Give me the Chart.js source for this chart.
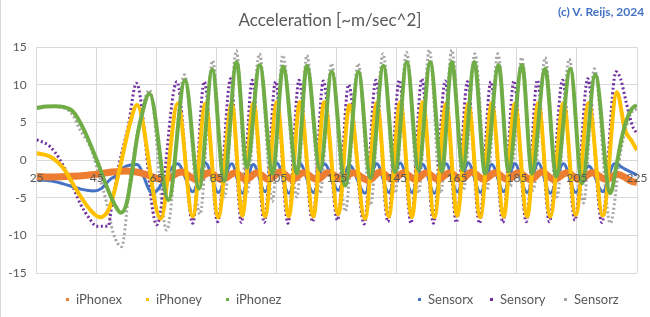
<!DOCTYPE html>
<html><head><meta charset="utf-8">
<script src="https://cdn.jsdelivr.net/npm/chart.js@4/dist/chart.umd.min.js"></script>
<style>
html,body{margin:0;padding:0;background:#fff;}
#wrap{position:relative;width:650px;height:317px;overflow:hidden;font-family:Lato,"Open Sans",sans-serif;}
#wrap canvas{position:absolute;left:0;top:0;}
#title{position:absolute;left:0;width:660px;top:9px;text-align:center;font-size:17px;color:#595959;}
#copy{position:absolute;left:558px;top:4px;font-size:12px;font-weight:bold;color:#4472C4;white-space:nowrap;}
.lg{position:absolute;top:291px;font-size:13px;color:#595959;white-space:nowrap;line-height:16px;}
.lg span.m{display:inline-block;width:3px;height:3px;margin-right:7px;vertical-align:middle;position:relative;top:-1px;}
#frame{position:absolute;left:0;top:0;width:1px;height:317px;background:#D9D9D9;}
</style></head><body>
<div id="wrap"><canvas id="c" width="650" height="317"></canvas>
<div id="frame"></div>
<div id="title">Acceleration [~m/sec^2]</div>
<div id="copy">(c) V. Reijs, 2024</div>
<div id="legend"></div>
</div>
<script>
// ---- data (x = time, y = acceleration) ----
const xTicks = [25,45,65,85,105,125,145,165,185,205,225];

const iPhonex = [[25,-2.2],[30,-2.25],[35,-2.2],[40,-2.1],[45,-1.9],[50,-1.6],[55,-1.45],[59.6,-1.7],[67.5,-2.6],[73.2,-1.6],[78.2,-2.6],[82.4,-1.7],[86.7,-2.6],[91.2,-1.7],[94.7,-2.6],[98.4,-1.7],[102.3,-2.6],[106.2,-1.6],[110.2,-2.6],[113.9,-1.7],[118.4,-2.6],[122,-1.7],[126.7,-2.5],[130.4,-1.7],[135.6,-2.7],[139.5,-1.6],[143.5,-2.6],[147.3,-1.7],[151.2,-2.6],[154.8,-1.7],[158.7,-2.6],[162.6,-1.7],[166.3,-2.6],[170,-1.6],[174,-2.6],[177.8,-1.7],[181.8,-2.6],[185.5,-1.7],[189.6,-2.6],[193.3,-1.6],[197.3,-2.6],[201.7,-1.7],[205.8,-2.6],[210.1,-1.7],[214.8,-2.6],[218.5,-1.9],[221,-2.3],[223,-2.8],[225,-3.0]];

const iPhoney = [[25,0.9],[29.4,0.45],[33.9,-1.1],[38.3,-4.0],[42.8,-6.6],[46.1,-7.6],[49.4,-6.2],[52.8,-0.9],[56.1,4.9],[58.4,7.3],[66.3,-7.8],[72.0,7.5],[77.0,-7.5],[81.2,7.5],[85.5,-7.6],[90.0,7.5],[93.5,-7.4],[97.2,7.6],[101.1,-7.5],[105.0,7.7],[109.0,-7.5],[112.7,7.7],[117.2,-7.5],[120.8,7.7],[125.5,-7.2],[129.2,7.3],[134.4,-7.8],[138.3,7.6],[142.3,-7.5],[146.1,7.7],[150.0,-7.6],[153.6,7.7],[157.5,-7.6],[161.4,7.5],[165.1,-7.4],[168.8,7.5],[172.8,-7.6],[176.6,7.6],[180.6,-7.5],[184.3,7.5],[188.4,-7.5],[192.1,7.6],[196.1,-7.5],[200.5,7.6],[204.6,-7.3],[208.9,7.6],[213.6,-7.4],[218.3,9.0],[221.0,4.0],[223.3,2.5],[225,1.3]];

const iPhonez = [[25,6.9],[28,7.1],[31,7.15],[33.9,7.05],[37.2,6.4],[40.5,4.2],[45,0],[48.3,-3.5],[51.1,-6.0],[53,-7.0],[55,-5.7],[56.7,-1.8],[58.3,2.6],[59.4,4.9],[62.6,8.8],[68.9,-5.3],[74.4,10.6],[79.1,-3.8],[83.5,12.0],[87.4,-2.8],[91.6,13.0],[95.0,-1.0],[99.3,12.6],[103.6,-1.8],[107.1,12.4],[111.7,-1.8],[115.0,12.5],[119.4,-1.3],[123.3,11.7],[127.8,-3.4],[132.2,11.7],[136.2,-2.4],[140.5,12.5],[144.4,-1.6],[148.3,13.0],[152.2,-1.3],[156.1,13.0],[160.0,-1.5],[163.3,13.0],[167.0,-1.3],[170.8,13.0],[174.4,-1.8],[178.9,12.6],[182.2,-1.5],[186.7,12.6],[190.0,-1.8],[194.4,12.1],[198.1,-2.2],[202.8,12.1],[206.7,-3.1],[211.1,11.3],[216.1,-4.4],[218.3,-0.4],[220,3.1],[221.7,5.5],[223.3,6.8],[225,7.3]];

const sensorx = [[25,-2.6],[30,-2.8],[35,-3.3],[40,-3.9],[44,-4.1],[46.5,-3.8],[49.4,-2.6],[51.7,-2.0],[54,-1.0],[58.4,-0.6],[63.5,-4.4],[72,-0.5],[77,-4.2],[81.2,-0.4],[85.5,-4.3],[90,-0.5],[93.5,-4.4],[97.2,-0.6],[101.1,-4.2],[105,-0.4],[109,-4.4],[112.7,-0.5],[117.2,-4.3],[120.8,-0.5],[125.5,-4.0],[129.2,-0.7],[134.4,-4.4],[138.3,-0.5],[142.3,-4.3],[146.1,-0.4],[150,-4.3],[153.6,-0.6],[157.5,-4.4],[161.4,-0.5],[165.1,-4.2],[168.8,-0.4],[172.8,-4.3],[176.6,-0.6],[180.6,-4.2],[184.3,-0.5],[188.4,-4.3],[192.1,-0.4],[196.1,-4.4],[200.5,-0.5],[204.6,-4.3],[208.9,-0.8],[213.6,-4.2],[217.5,-0.5],[221,-1.2],[225,-2.0]];

const sensory = [[25,2.7],[29.4,1.8],[32.8,0.0],[36.1,-2.6],[39.4,-5.7],[42.8,-7.9],[45,-8.8],[48.8,-8.8],[50.2,-5.5],[52.5,-0.5],[55.5,4.5],[58.2,10.2],[65,-8.6],[71.7,10.4],[77,-8.4],[80.8,10.4],[85.3,-8.2],[89.6,10.8],[93.2,-8.3],[96.8,10.6],[100.8,-8.3],[104.6,10.4],[108.7,-8.4],[112.4,10.6],[116.9,-8.2],[120.5,10.5],[125.2,-8.0],[128.9,10.0],[134.1,-8.5],[138,10.6],[142,-8.2],[145.8,10.6],[149.7,-8.4],[153.3,10.8],[157.2,-8.4],[161.1,10.5],[164.8,-8.3],[168.5,10.4],[172.5,-8.4],[176.3,10.4],[180.3,-8.3],[184,10.5],[188.1,-8.2],[191.8,10.6],[195.8,-8.2],[200.2,10.6],[204.3,-8.0],[208.6,10.8],[213.3,-8.3],[218,11.7],[219.5,10.8],[221.5,7.5],[223.5,4.5],[225,3.5]];

const sensorz = [[25,7.0],[30,7.1],[34,6.9],[37,6.0],[39.4,4.0],[42.8,1.8],[45,-0.9],[48.3,-5.7],[50.5,-9.7],[53.3,-11.5],[56,-3],[59.5,5.5],[62.6,9.3],[68.3,-9.3],[74.2,11.3],[79.4,-7.2],[83.6,13.2],[87.6,-4.9],[91.5,14.5],[95,-4.4],[99.2,14.1],[103.5,-5.5],[107,13.9],[111.7,-4.9],[115,13.9],[119.4,-4.4],[123.2,12.8],[127.8,-6.8],[132.1,12.8],[136.2,-6.0],[140.4,14.1],[144.4,-4.4],[148.2,14.3],[152.2,-4.4],[155.8,14.6],[159.6,-4.4],[163.3,14.6],[167.2,-4.0],[171,14.1],[175,-4.0],[178.6,14.1],[182.8,-3.5],[186.6,13.6],[190.4,-4.0],[194.4,13.6],[198.3,-4.9],[202.4,13.4],[207.2,-5.7],[210.8,12.1],[216.1,-8.4],[219.5,1.0],[221.5,4.5],[223,6.2],[225,6.8]];

const seriesNames = ['iPhonex','iPhoney','iPhonez','Sensorx','Sensory','Sensorz'];
const seriesColors = ['#ED7D31','#FFC000','#70AD47','#4472C4','#7030A0','#A5A5A5'];
const seriesData = [iPhonex, iPhoney, iPhonez, sensorx, sensory, sensorz];
const legendX = [66, 146, 226, 418, 490, 564];

const toPts = a => a.map(p => ({x:p[0], y:p[1]}));
const styles = [
  {borderWidth:7, order:3},
  {borderWidth:4, order:2},
  {borderWidth:4, order:1},
  {borderWidth:3, order:4},
  {borderWidth:3, order:5, borderDash:[2,2.5]},
  {borderWidth:3, order:6, borderDash:[2,2.5]}
];
const datasets = seriesData.map((d,i) => Object.assign({
  label: seriesNames[i],
  data: toPts(d),
  borderColor: seriesColors[i],
  backgroundColor: seriesColors[i],
  pointRadius: 0,
  fill: false,
  cubicInterpolationMode: 'monotone'
}, styles[i]));

new Chart(document.getElementById('c'), {
  type: 'line',
  data: { datasets },
  options: {
    responsive: false,
    animation: false,
    devicePixelRatio: 1,
    layout: { padding: { left: 0, right: 13, top: 47, bottom: 44 } },
    plugins: { legend: { display: false }, tooltip: { enabled: false }, title: { display: false } },
    scales: {
      x: {
        type: 'linear', min: 25, max: 225,
        position: { y: -1.3 },
        afterBuildTicks: s => { s.ticks = xTicks.map(v => ({ value: v })); },
        ticks: { z: 1, color: '#595959', font: { family: 'Lato', size: 12 }, padding: 1, maxRotation: 0, autoSkip: false },
        grid: { color: '#D9D9D9', drawTicks: false },
        border: { display: false }
      },
      y: {
        min: -15, max: 15,
        ticks: { stepSize: 5, color: '#595959', font: { family: 'Lato', size: 12 }, padding: 10 },
        grid: { color: '#D9D9D9', drawTicks: false },
        border: { color: '#D9D9D9' },
        afterFit: s => { s.width = 36.7; }
      }
    }
  }
});

// legend (HTML text)
const lg = document.getElementById('legend');
seriesNames.forEach((n,i) => {
  const d = document.createElement('div');
  d.className = 'lg';
  d.style.left = legendX[i] + 'px';
  d.innerHTML = '<span class="m" style="background:' + seriesColors[i] + '"></span>' + n;
  lg.appendChild(d);
});
</script>
</body></html>
